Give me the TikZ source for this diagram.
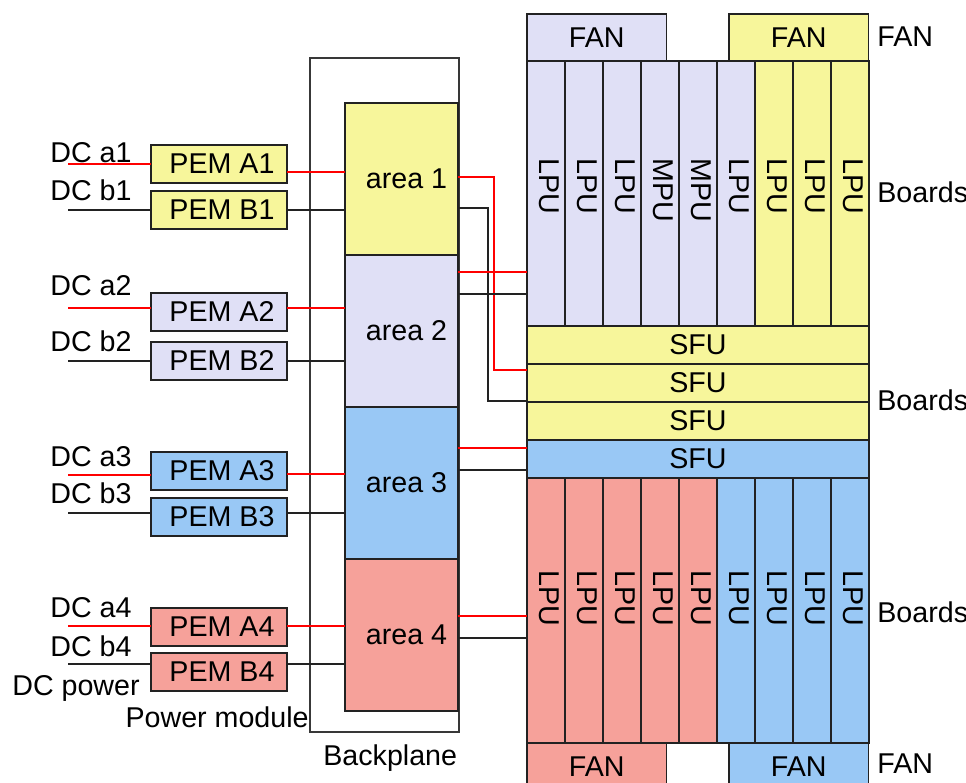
\documentclass[tikz,border=0pt]{standalone}
\usepackage{fontspec}
\setmainfont{Liberation Sans}
\usetikzlibrary{positioning}
\definecolor{pyellow}{HTML}{F7F69B}
\definecolor{plilac}{HTML}{E0E0F6}
\definecolor{pblue}{HTML}{99C8F5}
\definecolor{psalmon}{HTML}{F6A19A}
\definecolor{edgegray}{HTML}{222222}
\tikzset{
  box/.style={draw=edgegray,line width=1.1pt,inner sep=0pt,outer sep=0pt,anchor=north west},
  pem/.style={box,minimum width=2.72cm,minimum height=0.76cm,execute at begin node={\hspace*{0.12cm}}},
  area/.style={box,minimum width=2.26cm,minimum height=3.04cm,execute at begin node={\hspace*{0.2cm}}},
  slot/.style={box,minimum width=0.76cm,minimum height=5.3cm},
  sfu/.style={box,minimum width=6.84cm,minimum height=0.76cm},
  fanbox/.style={box,minimum width=2.79cm,minimum height=0.94cm},
  tag/.style={inner sep=0pt,anchor=base west},
  vtag/.style={inner sep=0pt,anchor=west,rotate=-90},
  redline/.style={red,line width=0.8pt},
  blkline/.style={edgegray,line width=0.8pt},
}

\begin{document}
\begin{tikzpicture}[x=0.02cm,y=-0.02cm,font=\fontsize{16.3}{19}\selectfont]
  \useasboundingbox (0,0) rectangle (966,783);
  \clip (0,0) rectangle (966,783);

  % backplane and its four areas
  \node[box,draw=edgegray!90,minimum width=2.98cm,minimum height=13.48cm] (bp) at (310,58) {};
  \node[area,fill=pyellow] (area1) at (345,103) {area 1};
  \node[area,fill=plilac] (area2) at (345,255) {area 2};
  \node[area,fill=pblue] (area3) at (345,407) {area 3};
  \node[area,fill=psalmon] (area4) at (345,559) {area 4};

  % power modules
  \node[pem,fill=pyellow] (pemA1) at (151,145) {PEM A1};
  \node[pem,fill=pyellow] (pemB1) at (151,191) {PEM B1};
  \node[pem,fill=plilac] (pemA2) at (151,293) {PEM A2};
  \node[pem,fill=plilac] (pemB2) at (151,342) {PEM B2};
  \node[pem,fill=pblue] (pemA3) at (151,452) {PEM A3};
  \node[pem,fill=pblue] (pemB3) at (151,498) {PEM B3};
  \node[pem,fill=psalmon] (pemA4) at (151,608) {PEM A4};
  \node[pem,fill=psalmon] (pemB4) at (151,653) {PEM B4};

  \node[tag] at (50,163) {DC a1};
  \node[tag] at (50,201) {DC b1};
  \node[tag] at (50,296) {DC a2};
  \node[tag] at (50,352) {DC b2};
  \node[tag] at (50,466) {DC a3};
  \node[tag] at (50,503) {DC b3};
  \node[tag] at (50,617) {DC a4};
  \node[tag] at (50,656) {DC b4};
  \node[tag] at (12,695) {DC power};
  \node[tag,anchor=base east] at (309,727) {Power module};
  \node[tag] at (323,765) {Backplane};

  % DC inputs
  \coordinate (dcA1) at (68,164);
  \coordinate (dcB1) at (68,210);
  \coordinate (dcA2) at (68,308);
  \coordinate (dcB2) at (68,361);
  \coordinate (dcA3) at (68,475);
  \coordinate (dcB3) at (68,513);
  \coordinate (dcA4) at (68,626);
  \coordinate (dcB4) at (68,664);
  \draw[redline] (dcA1) -- (dcA1 -| pemA1.west);
  \draw[blkline] (dcB1) -- (dcB1 -| pemB1.west);
  \draw[redline] (dcA2) -- (dcA2 -| pemA2.west);
  \draw[blkline] (dcB2) -- (dcB2 -| pemB2.west);
  \draw[redline] (dcA3) -- (dcA3 -| pemA3.west);
  \draw[blkline] (dcB3) -- (dcB3 -| pemB3.west);
  \draw[redline] (dcA4) -- (dcA4 -| pemA4.west);
  \draw[blkline] (dcB4) -- (dcB4 -| pemB4.west);

  % modules to backplane
  \draw[redline] (pemA1.east |- 0,172) -- (area1.west |- 0,172);
  \draw[blkline] (pemB1.east |- 0,210) -- (area1.west |- 0,210);
  \draw[redline] (pemA2.east |- 0,308) -- (area2.west |- 0,308);
  \draw[blkline] (pemB2.east |- 0,361) -- (area2.west |- 0,361);
  \draw[redline] (pemA3.east |- 0,474) -- (area3.west |- 0,474);
  \draw[blkline] (pemB3.east |- 0,513) -- (area3.west |- 0,513);
  \draw[redline] (pemA4.east |- 0,626) -- (area4.west |- 0,626);
  \draw[blkline] (pemB4.east |- 0,664) -- (area4.west |- 0,664);

  % chassis: fans, boards, SFUs
  \node[fanbox,fill=plilac] (fanTL) at (527,14) {FAN};
  \node[fanbox,fill=pyellow] (fanTR) at (729,14) {FAN};
  \foreach \lab/\col [count=\i from 0] in {LPU/plilac,LPU/plilac,LPU/plilac,MPU/plilac,MPU/plilac,LPU/plilac,LPU/pyellow,LPU/pyellow,LPU/pyellow}{
    \node[slot,fill=\col] (top\i) at ({527+38*\i},61) {};
    \node[vtag] at ({549+38*\i},158) {\lab};
  }
  \node[sfu,fill=pyellow] (sfu1) at (527,326) {SFU};
  \node[sfu,fill=pyellow] (sfu2) at (527,364) {SFU};
  \node[sfu,fill=pyellow] (sfu3) at (527,402) {SFU};
  \node[sfu,fill=pblue] (sfu4) at (527,440) {SFU};
  \foreach \col [count=\i from 0] in {psalmon,psalmon,psalmon,psalmon,psalmon,pblue,pblue,pblue,pblue}{
    \node[slot,fill=\col] (bot\i) at ({527+38*\i},478) {};
    \node[vtag] at ({549+38*\i},570) {LPU};
  }
  \node[fanbox,fill=psalmon] (fanBL) at (527,743) {\raisebox{-3pt}{FAN}};
  \node[fanbox,fill=pblue] (fanBR) at (729,743) {\raisebox{-3pt}{FAN}};

  \node[tag] at (877,47) {FAN};
  \node[tag] at (877,203) {Boards};
  \node[tag] at (877,411) {Boards};
  \node[tag] at (877,622) {Boards};
  \node[tag] at (877,773) {FAN};

  % backplane to boards
  \draw[redline] (area1.east |- 0,177) -- (494,177) |- (sfu2.west |- 0,370);
  \draw[blkline] (area1.east |- 0,208) -- (488,208) |- (sfu2.west |- 0,401);
  \draw[redline] (area2.east |- 0,272) -- (top0.west |- 0,272);
  \draw[blkline] (area2.east |- 0,294) -- (top0.west |- 0,294);
  \draw[redline] (area3.east |- 0,448) -- (sfu4.west |- 0,448);
  \draw[blkline] (area3.east |- 0,470) -- (sfu4.west |- 0,470);
  \draw[redline] (area4.east |- 0,616) -- (bot0.west |- 0,616);
  \draw[blkline] (area4.east |- 0,638) -- (bot0.west |- 0,638);
\end{tikzpicture}
\end{document}
